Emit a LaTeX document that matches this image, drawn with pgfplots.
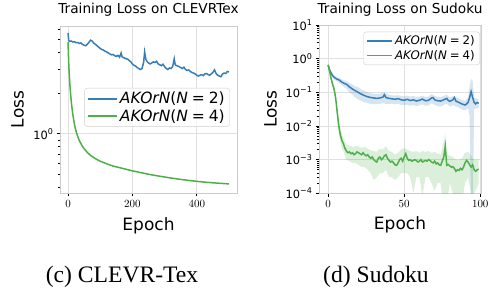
\documentclass[border=0pt]{standalone}
\usepackage{fontspec}
\setmainfont{DejaVu Sans}
\newfontfamily\capfont{Liberation Serif}
\usepackage{pgfplots}
\pgfplotsset{compat=1.18}
\definecolor{cblue}{HTML}{377EB8}
\definecolor{cgreen}{HTML}{4DAF4A}
\newcommand\sups[1]{\raisebox{0.42em}{\fontsize{8}{9}\selectfont #1}}
\newcommand\leg[1]{\textit{AKOrN}(\textit{N}\hspace{0.25em}=\hspace{0.25em}#1)}
\pgfplotsset{
  myax/.style={
    scale only axis, anchor=south west,
    axis line style={draw=black!20, line width=0.8pt},
    grid=major, grid style={draw=black!12, line width=0.8pt},
    tick align=outside, tick pos=left,
    major tick length=3.5pt, minor tick length=2pt,
    tick style={black, line width=0.8pt},
    minor tick style={black, line width=0.6pt},
    tick label style={font=\fontsize{11.4}{13}\selectfont},
    label style={font=\fontsize{17}{20}\selectfont},
    title style={font=\fontsize{13.7}{16}\selectfont, anchor=base},
    legend cell align=left,
  }
}
\begin{document}
\begin{tikzpicture}[x=1pt,y=1pt]
\path[use as bounding box] (0pt,0pt) rectangle (490pt,287pt);
% ---------------- left: CLEVRTex
\begin{axis}[myax, at={(60pt,94pt)}, width=177pt, height=167pt,
  xmin=-25, xmax=525, ymode=log, ymin=0.363, ymax=6.31,
  xtick={0,200,400}, ytick={1}, yticklabels={10\sups{0}},
  minor ytick={0.4,0.5,0.6,0.7,0.8,0.9,2,3,4,5,6},
  xlabel={Epoch}, ylabel={Loss}, title={Training Loss on CLEVRTex},
  xlabel style={at={(axis description cs:0.5,-0.2216)}, anchor=base},
  ylabel style={at={(axis description cs:-0.2401,0.5)}, anchor=center},
  title style={at={(axis description cs:0.5,1.0389)}},
  legend style={at={(axis description cs:0.96,0.629)}, anchor=north east,
    font=\fontsize{15.5}{18}\selectfont, draw=black!20, rounded corners=3pt,
    fill=white, fill opacity=0.8, text opacity=1},
  legend image code/.code={\draw[#1] (0pt,0pt) -- (29pt,0pt);},
]
\addplot[cblue, line width=1.5pt] coordinates {
(0,5.6)(2,4.95)(5,4.85)(10,4.88)(15,4.80)(20,4.82)(25,4.74)(30,4.76)(35,4.68)(40,4.72)
(45,4.60)(50,4.55)(55,4.50)(60,4.62)(65,4.78)(70,4.95)(75,4.88)(80,4.70)(85,4.62)(90,4.50)
(95,4.40)(100,4.30)(105,4.22)(110,4.18)(115,4.10)(120,4.05)(125,3.98)(130,3.92)(135,3.85)(140,3.88)
(145,3.80)(150,3.75)(155,3.82)(160,3.70)(165,3.98)(168,3.72)(172,3.68)(178,3.62)(185,3.58)(190,3.50)
(195,3.42)(200,3.30)(205,3.22)(210,3.18)(215,3.10)(220,3.05)(225,3.00)(230,3.05)(235,3.40)(238,4.05)
(242,3.55)(248,3.38)(255,3.30)(260,3.35)(265,3.42)(270,3.38)(275,3.45)(280,3.30)(285,3.25)(290,3.20)
(295,3.28)(300,3.15)(305,3.05)(310,3.00)(315,3.08)(320,3.05)(325,3.15)(330,3.60)(333,3.25)(338,3.20)
(345,3.15)(350,3.10)(355,3.05)(360,3.12)(365,3.00)(370,2.95)(375,2.98)(380,2.90)(385,2.85)(390,2.82)
(395,2.78)(400,2.72)(405,2.68)(410,2.72)(415,2.75)(420,2.70)(425,2.78)(430,2.80)(435,2.75)(440,2.72)
(445,2.78)(450,2.85)(455,2.98)(460,2.80)(465,2.72)(470,2.68)(475,2.65)(480,2.78)(485,2.82)(490,2.80)
(495,2.90)(500,2.88)};
\addlegendentry{\leg{2}}
\addplot[cgreen, line width=1.5pt] coordinates {
(0,4.8)(1,4.0)(2,3.4)(3,3.0)(4,2.7)(5,2.45)(7,2.1)(9,1.85)(11,1.65)(13,1.5)(15,1.38)(18,1.25)
(21,1.14)(25,1.04)(30,0.955)(35,0.89)(40,0.845)(45,0.805)(50,0.775)(60,0.725)(70,0.69)(80,0.665)
(90,0.643)(100,0.625)(120,0.598)(140,0.575)(160,0.56)(180,0.545)(200,0.53)(225,0.515)(250,0.5)
(275,0.488)(300,0.477)(325,0.467)(350,0.458)(375,0.45)(400,0.443)(425,0.437)(450,0.432)(475,0.428)(500,0.424)};
\addlegendentry{\leg{4}}
\end{axis}
% ---------------- right: Sudoku
\begin{axis}[myax, at={(319pt,93.7pt)}, width=162pt, height=168.3pt,
  xmin=-6, xmax=100.5, ymode=log, ymin=1e-4, ymax=10,
  xtick={0,50,100}, ytick={1e-4,1e-3,1e-2,1e-1,1,10},
  yticklabels={10\sups{−4},10\sups{−3},10\sups{−2},10\sups{−1},10\sups{0},10\sups{1}},
  minor ytick={2e-4,3e-4,4e-4,5e-4,6e-4,7e-4,8e-4,9e-4,2e-3,3e-3,4e-3,5e-3,6e-3,7e-3,8e-3,9e-3,
    2e-2,3e-2,4e-2,5e-2,6e-2,7e-2,8e-2,9e-2,0.2,0.3,0.4,0.5,0.6,0.7,0.8,0.9,2,3,4,5,6,7,8,9},
  xlabel={Epoch}, ylabel={Loss}, title={Training Loss on Sudoku},
  xlabel style={at={(axis description cs:0.5,-0.218)}, anchor=base},
  ylabel style={at={(axis description cs:-0.2994,0.5)}, anchor=center},
  title style={at={(axis description cs:0.5,1.0327)}},
  legend style={at={(axis description cs:0.994,0.96)}, anchor=north east,
    font=\fontsize{11.8}{14}\selectfont, draw=black!20, rounded corners=3pt,
    fill=white, fill opacity=0.8, text opacity=1},
  legend image code/.code={\draw[#1] (0pt,0pt) -- (25pt,0pt);},
]
\addplot[fill=cblue, fill opacity=0.2, draw=none, forget plot] coordinates {
(0,0.7)(2,0.42)(4,0.32)(6,0.28)(8,0.26)(10,0.23)(12,0.22)(14,0.19)(16,0.17)(18,0.15)(20,0.14)
(22,0.12)(24,0.11)(26,0.10)(28,0.095)(30,0.09)(32,0.09)(34,0.09)(36,0.1)(38,0.095)(40,0.085)
(42,0.082)(44,0.08)(46,0.082)(48,0.078)(50,0.075)(52,0.08)(54,0.075)(56,0.078)(58,0.072)(60,0.075)
(62,0.08)(64,0.073)(66,0.075)(68,0.088)(70,0.078)(72,0.073)(74,0.072)(76,0.078)(78,0.085)(80,0.07)
(82,0.078)(84,0.072)(86,0.065)(88,0.06)(90,0.056)(92,0.07)(93,0.15)(94,0.25)(95,0.22)(96,0.07)
(98,0.065)(99,0.062)
(99,0.033)(98,0.034)(96,0.032)(95,0.00002)(94,0.00002)(93,0.02)(92,0.034)(90,0.029)(88,0.031)(86,0.035)
(84,0.038)(82,0.042)(80,0.038)(78,0.046)(76,0.042)(74,0.038)(72,0.039)(70,0.042)(68,0.048)(66,0.041)
(64,0.04)(62,0.044)(60,0.041)(58,0.039)(56,0.042)(54,0.04)(52,0.043)(50,0.042)(48,0.042)(46,0.046)
(44,0.044)(42,0.046)(40,0.045)(38,0.045)(36,0.048)(34,0.045)(32,0.045)(30,0.044)(28,0.045)(26,0.048)
(24,0.05)(22,0.055)(20,0.06)(18,0.07)(16,0.085)(14,0.10)(12,0.13)(10,0.15)(8,0.18)(6,0.21)(4,0.24)
(2,0.32)(0,0.6)};
\addplot[fill=cgreen, fill opacity=0.2, draw=none, forget plot] coordinates {
(0,0.7)(1,0.45)(2,0.3)(3,0.2)(4,0.14)(5,0.08)(6,0.035)(7,0.016)(8,0.009)(9,0.006)(10,0.0045)
(12,0.0028)(14,0.0026)(16,0.0024)(18,0.0025)(20,0.0025)(22,0.0022)(24,0.0024)(26,0.0021)(28,0.0019)
(30,0.0018)(32,0.0017)(34,0.0021)(36,0.002)(38,0.0025)(40,0.0018)(42,0.0017)(44,0.0014)(46,0.0016)
(48,0.002)(50,0.0022)(52,0.002)(54,0.0018)(56,0.0017)(58,0.0018)(60,0.0016)(62,0.0018)(64,0.0017)
(66,0.0018)(68,0.0016)(70,0.0017)(72,0.0015)(74,0.0014)(76,0.0035)(77,0.006)(78,0.0015)(80,0.0013)
(82,0.0012)(84,0.001)(86,0.001)(88,0.0011)(90,0.0016)(92,0.0017)(94,0.0013)(96,0.001)(98,0.001)(99,0.001)
(99,0.0002)(98,0.00015)(96,0.0001)(94,0.0001)(92,0.0003)(90,0.0002)(88,0.00005)(86,0.00003)(84,0.00005)
(82,0.0001)(80,0.0002)(78,0.00005)(77,0.00003)(76,0.00003)(74,0.0002)(72,0.0002)(70,0.00012)(68,0.0002)
(66,0.0003)(64,0.0003)(62,0.00008)(60,0.0003)(58,0.0003)(56,0.0001)(54,0.0003)(52,0.0004)(50,0.0004)
(48,0.0004)(46,0.0003)(44,0.00025)(42,0.0003)(40,0.0003)(38,0.0005)(36,0.0004)(34,0.0004)(32,0.0003)
(30,0.00025)(28,0.0004)(26,0.0005)(24,0.0006)(22,0.0006)(20,0.0007)(18,0.0008)(16,0.0008)(14,0.0009)
(12,0.001)(10,0.0018)(9,0.0022)(8,0.0033)(7,0.006)(6,0.017)(5,0.05)(4,0.09)(3,0.14)(2,0.2)(1,0.38)(0,0.6)};
\addplot[cblue, line width=1.5pt] coordinates {
(0,0.65)(1,0.46)(2,0.37)(3,0.31)(4,0.28)(5,0.26)(6,0.245)(7,0.235)(8,0.22)(9,0.20)(10,0.19)
(11,0.18)(12,0.175)(13,0.16)(14,0.145)(15,0.135)(16,0.125)(17,0.118)(18,0.11)(19,0.105)(20,0.098)
(21,0.092)(22,0.088)(23,0.083)(24,0.08)(25,0.076)(26,0.074)(28,0.07)(30,0.068)(32,0.066)(34,0.068)
(36,0.072)(37,0.085)(38,0.07)(40,0.066)(42,0.064)(44,0.062)(46,0.065)(48,0.06)(50,0.058)(52,0.062)
(54,0.057)(56,0.06)(58,0.055)(60,0.058)(62,0.063)(64,0.056)(66,0.058)(68,0.068)(69,0.07)(70,0.06)
(72,0.056)(74,0.055)(76,0.06)(78,0.066)(79,0.057)(80,0.054)(82,0.06)(83,0.07)(84,0.055)(86,0.05)
(88,0.045)(90,0.042)(91,0.045)(92,0.05)(93,0.07)(94,0.105)(95,0.07)(96,0.05)(97,0.045)(98,0.05)(99,0.047)};
\addlegendentry{\leg{2}}
\addplot[cgreen, line width=1.5pt] coordinates {
(0,0.65)(1,0.42)(2,0.25)(3,0.17)(4,0.12)(5,0.065)(6,0.025)(7,0.01)(8,0.0055)(9,0.0038)(10,0.003)
(11,0.0022)(12,0.0018)(13,0.0016)(14,0.0017)(15,0.0015)(16,0.0016)(17,0.0014)(18,0.0015)(19,0.0017)(20,0.0016)
(21,0.0015)(22,0.0014)(23,0.0016)(24,0.0014)(25,0.0013)(26,0.0014)(27,0.0012)(28,0.0011)(29,0.0012)(30,0.0010)
(31,0.0009)(32,0.00085)(33,0.0011)(34,0.0012)(35,0.001)(36,0.0011)(37,0.0013)(38,0.0014)(39,0.0011)(40,0.00095)
(41,0.00085)(42,0.0009)(43,0.0008)(44,0.0007)(45,0.00068)(46,0.0008)(47,0.001)(48,0.0011)(49,0.0009)(50,0.0012)
(51,0.0015)(52,0.0011)(53,0.00095)(54,0.001)(55,0.0009)(56,0.00095)(57,0.001)(58,0.00095)(59,0.00085)(60,0.0009)
(61,0.001)(62,0.00085)(63,0.0009)(64,0.00095)(65,0.0009)(66,0.001)(67,0.00095)(68,0.00085)(69,0.0008)(70,0.0009)
(71,0.00075)(72,0.0008)(73,0.0007)(74,0.00068)(75,0.0009)(76,0.0012)(77,0.0025)(78,0.00068)(79,0.00072)(80,0.00065)
(81,0.0006)(82,0.00062)(83,0.00055)(84,0.00045)(85,0.0005)(86,0.00048)(87,0.00055)(88,0.0005)(89,0.0006)(90,0.0008)
(91,0.00095)(92,0.00085)(93,0.0007)(94,0.0006)(95,0.0007)(96,0.0005)(97,0.00045)(98,0.0005)(99,0.00052)};
\addlegendentry{\leg{4}}
\end{axis}
\node[font=\capfont\fontsize{23.6}{26}\selectfont, anchor=base, inner sep=0pt] at (122pt,4.5pt) {(c) CLEVR-Tex};
\node[font=\capfont\fontsize{23.6}{26}\selectfont, anchor=base, inner sep=0pt] at (376pt,4.5pt) {(d) Sudoku};
\end{tikzpicture}
\end{document}
